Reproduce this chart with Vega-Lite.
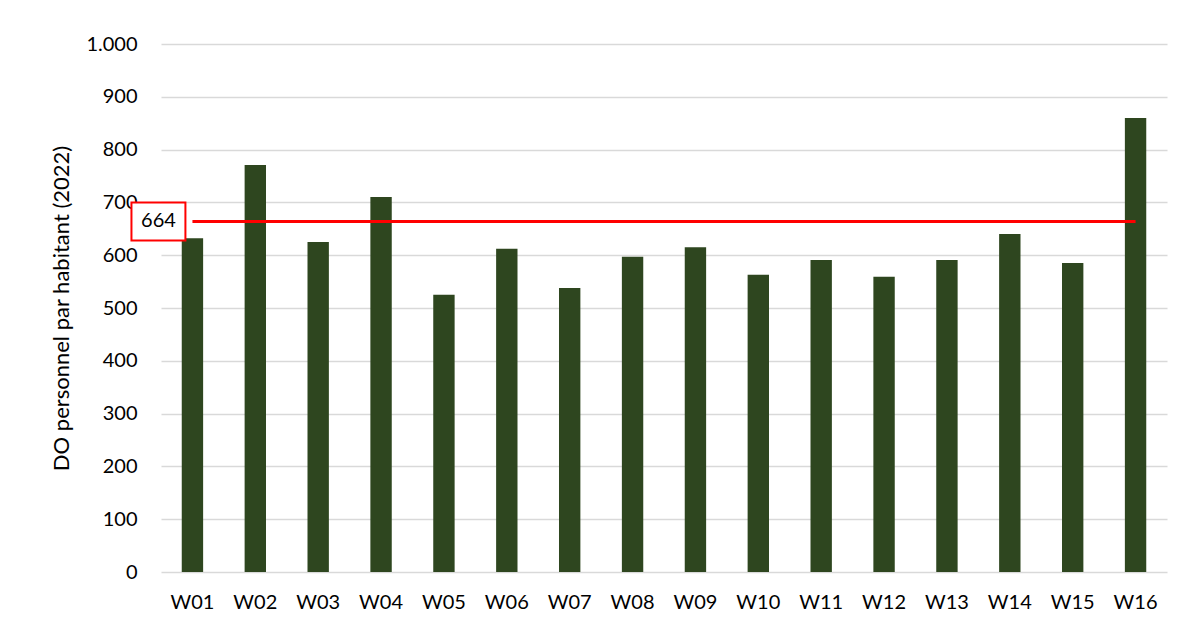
{
  "$schema": "https://vega.github.io/schema/vega-lite/v6.json",
  "autosize": "none",
  "width": 1006,
  "height": 528,
  "padding": {"left": 161, "top": 44, "right": 17, "bottom": 54},
  "background": "white",
  "config": {
    "view": {"stroke": null},
    "font": "Lato"
  },
  "datasets": {
    "bars": [
      {"code": "W01", "value": 632},
      {"code": "W02", "value": 771},
      {"code": "W03", "value": 625},
      {"code": "W04", "value": 710},
      {"code": "W05", "value": 525},
      {"code": "W06", "value": 612},
      {"code": "W07", "value": 538},
      {"code": "W08", "value": 597},
      {"code": "W09", "value": 615},
      {"code": "W10", "value": 563},
      {"code": "W11", "value": 591},
      {"code": "W12", "value": 559},
      {"code": "W13", "value": 591},
      {"code": "W14", "value": 640},
      {"code": "W15", "value": 585},
      {"code": "W16", "value": 860}
    ],
    "avg": [
      {"from": "W01", "to": "W16", "avg": 664, "label": "664"}
    ]
  },
  "layer": [
    {
      "data": {"name": "bars"},
      "mark": {"type": "bar", "color": "#2E461F"},
      "encoding": {
        "x": {
          "field": "code",
          "type": "nominal",
          "sort": null,
          "scale": {"paddingInner": 0.66, "paddingOuter": 0.33},
          "axis": {
            "title": null,
            "labelAngle": 0,
            "labelFontSize": 20,
            "labelColor": "#000000",
            "labelPadding": 20,
            "ticks": false,
            "domain": false
          }
        },
        "y": {
          "field": "value",
          "type": "quantitative",
          "scale": {"domain": [0, 1000]},
          "axis": {
            "title": "DO personnel par habitant (2022)",
            "titleFontSize": 22,
            "titleFontWeight": "normal",
            "titleColor": "#000000",
            "titlePadding": 12,
            "values": [0, 100, 200, 300, 400, 500, 600, 700, 800, 900, 1000],
            "labelExpr": "replace(format(datum.value, ','), ',', '.')",
            "labelFontSize": 20,
            "labelColor": "#000000",
            "labelPadding": 24,
            "ticks": false,
            "domain": false,
            "grid": true,
            "gridColor": "#D9D9D9",
            "gridWidth": 1.5
          }
        }
      }
    },
    {
      "data": {"name": "avg"},
      "mark": {"type": "rule", "color": "#FF0000", "strokeWidth": 3},
      "encoding": {
        "x": {"field": "from", "type": "nominal", "sort": null},
        "x2": {"field": "to"},
        "y": {"field": "avg", "type": "quantitative"}
      }
    },
    {
      "data": {"name": "avg"},
      "mark": {
        "type": "point",
        "shape": "M-1.42,-1H1.42V1H-1.42Z",
        "size": 1444,
        "filled": false,
        "stroke": "#FF0000",
        "strokeWidth": 2,
        "fill": "white",
        "opacity": 1,
        "xOffset": -34
      },
      "encoding": {
        "x": {"field": "from", "type": "nominal", "sort": null},
        "y": {"field": "avg", "type": "quantitative"}
      }
    },
    {
      "data": {"name": "avg"},
      "mark": {
        "type": "text",
        "fontSize": 20,
        "color": "#000000",
        "align": "center",
        "baseline": "middle",
        "dx": -34
      },
      "encoding": {
        "x": {"field": "from", "type": "nominal", "sort": null},
        "y": {"field": "avg", "type": "quantitative"},
        "text": {"field": "label"}
      }
    }
  ]
}
